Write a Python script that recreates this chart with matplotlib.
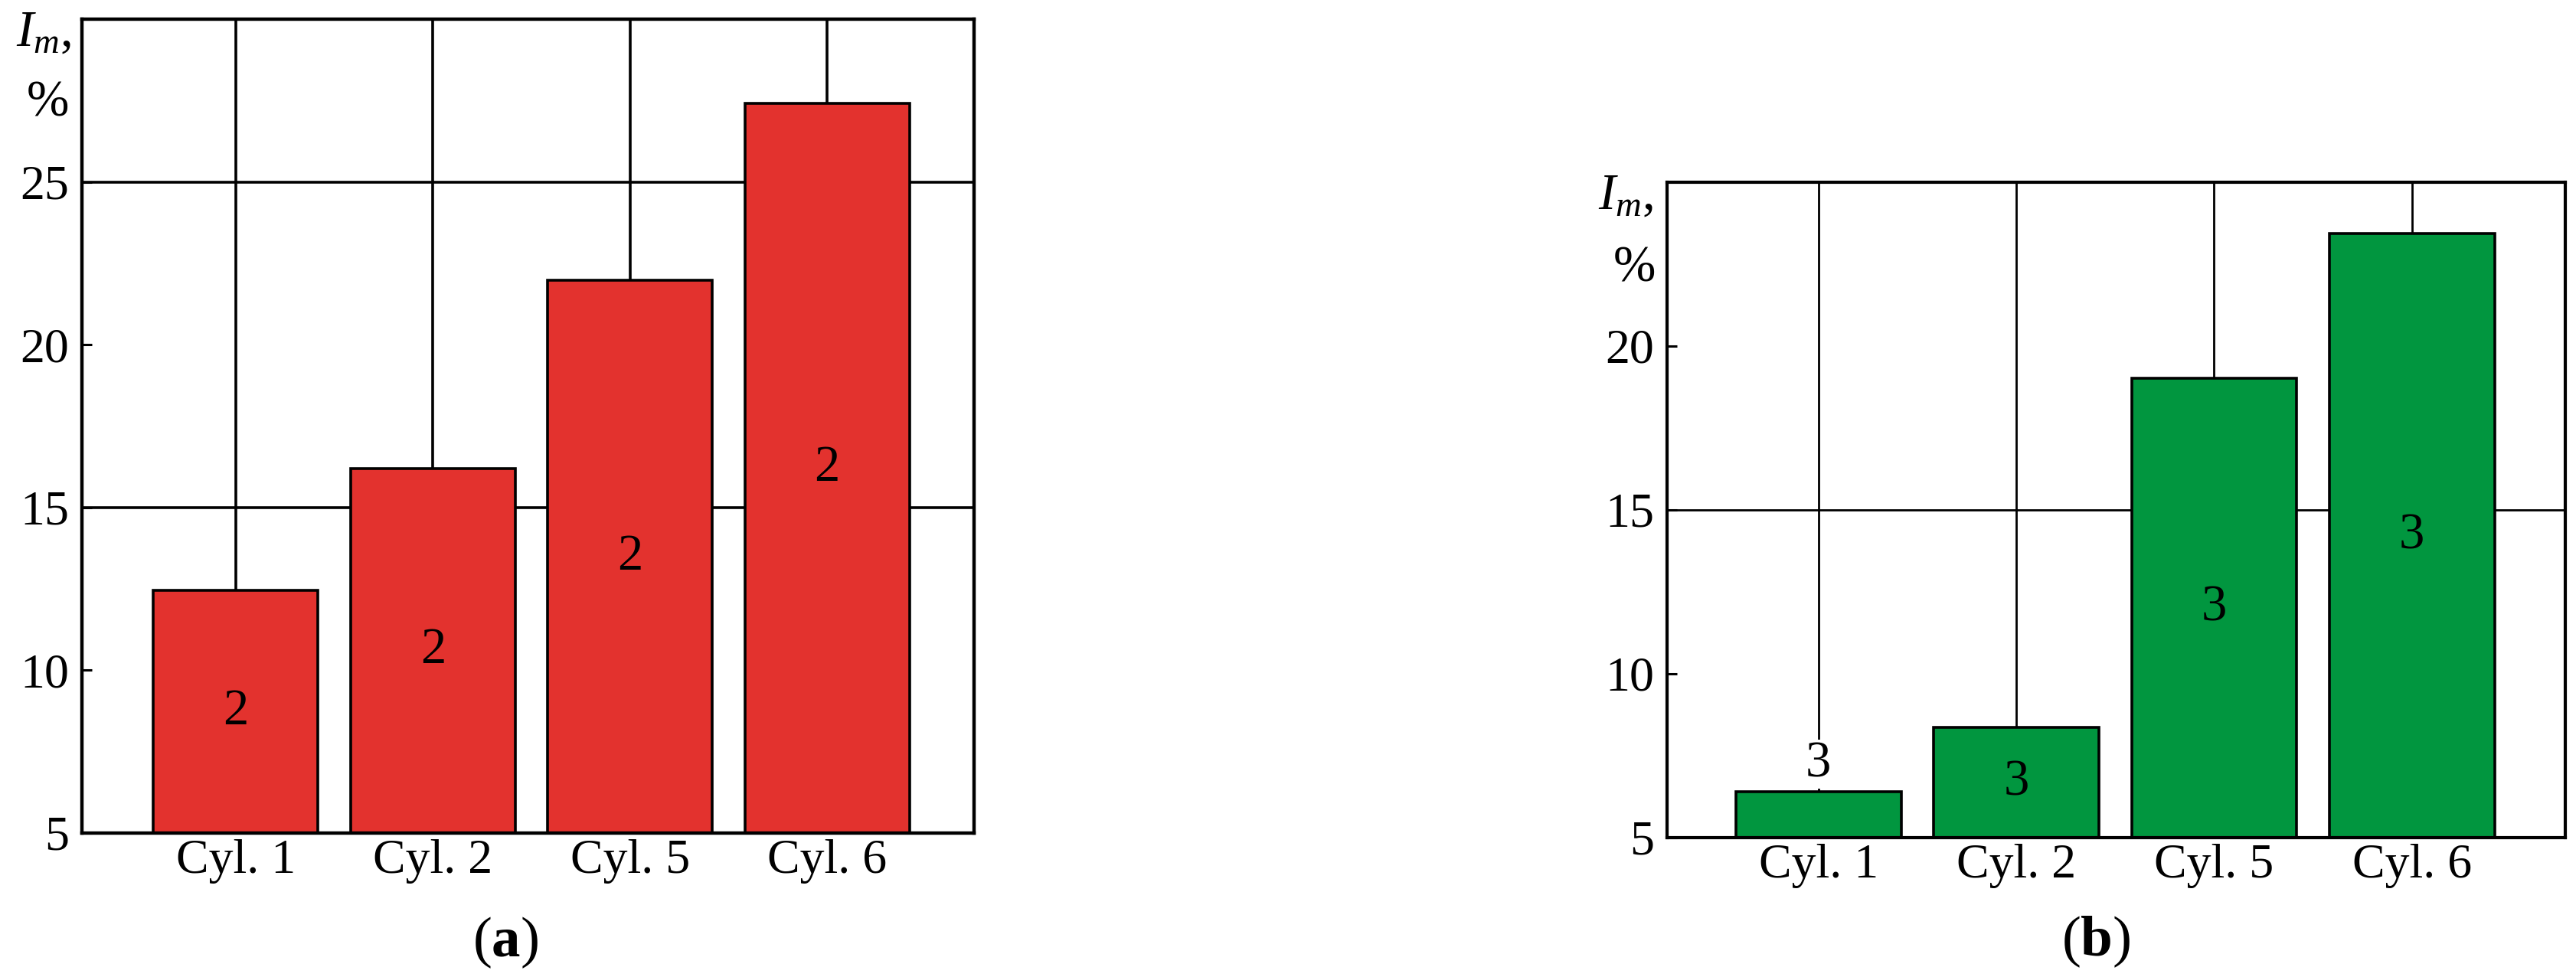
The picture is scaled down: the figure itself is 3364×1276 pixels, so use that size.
import matplotlib
matplotlib.use("Agg")
import matplotlib.pyplot as plt

# ---- data ----
categories = ["Cyl. 1", "Cyl. 2", "Cyl. 5", "Cyl. 6"]
values_a = [12.45, 16.2, 21.97, 27.42]
values_b = [6.40, 8.36, 19.02, 23.43]
label_a = "2"
label_b = "3"
yticks_a = [5, 10, 15, 20, 25]
yticks_b = [5, 10, 15, 20]
hgrid_a = [15, 25]
hgrid_b = [15]
panel_tags = ["a", "b"]

plt.rcParams["font.family"] = ["Liberation Serif", "DejaVu Serif"]
plt.rcParams["mathtext.fontset"] = "custom"
plt.rcParams["mathtext.rm"] = "Liberation Serif"
plt.rcParams["mathtext.it"] = "Liberation Serif:italic"
plt.rcParams["mathtext.bf"] = "Liberation Serif:bold"

W, H = 3364, 1276
fig = plt.figure(figsize=(W / 100, H / 100), dpi=100)

RED = "#E3322E"
GREEN = "#01963F"


def panel(rect_px, values, color, label, yticks, hgrid, ylim, xlim, lw_grid, lw_spine):
    x0, y0, x1, y1 = rect_px  # left, top, right, bottom in pixels
    ax = fig.add_axes([x0 / W, 1 - y1 / H, (x1 - x0) / W, (y1 - y0) / H])
    x = list(range(len(categories)))
    ax.set_axisbelow(True)
    ax.bar(x, [v - ylim[0] for v in values], bottom=ylim[0], width=0.835,
           color=color, edgecolor="black", linewidth=2.6, zorder=2)
    ax.set_xlim(*xlim)
    ax.set_ylim(*ylim)
    ax.set_xticks(x)
    ax.set_xticklabels(categories, fontsize=46)
    ax.set_yticks(yticks)
    ax.set_yticklabels([str(t) for t in yticks], fontsize=46)
    ax.tick_params(axis="x", length=0, pad=6)
    ax.tick_params(axis="y", direction="in", length=9, width=2.2, pad=12)
    ax.grid(axis="x", color="black", linewidth=lw_grid, zorder=0.5)
    for g in hgrid:
        ax.axhline(g, color="black", linewidth=lw_grid, zorder=0.5)
    for s in ax.spines.values():
        s.set_linewidth(lw_spine)
        s.set_zorder(3)
    for xi, v in zip(x, values):
        if v - ylim[0] < 2.5:
            ax.text(xi, v + 0.85, label, ha="center", va="center", fontsize=48,
                    zorder=4, bbox=dict(facecolor="white", edgecolor="none", pad=1))
        else:
            ax.text(xi, (v + ylim[0]) / 2, label, ha="center", va="center",
                    fontsize=48, zorder=4)
    return ax


ax_a = panel((107, 25, 1272, 1088), values_a, RED, label_a, yticks_a, hgrid_a,
             (5, 30), (-0.78, 3.745), 2.6, 3.2)
ax_b = panel((2177, 238, 3350, 1094), values_b, GREEN, label_b, yticks_b, hgrid_b,
             (5, 25), (-0.765, 3.775), 2.0, 3.0)

# y-axis titles
for ax, off1, off2 in [(ax_a, (-14, 12), (-17, -80)), (ax_b, (-18, 12), (-15, -82))]:
    ax.annotate(r"$I_m$,", xy=(0, 1), xycoords="axes fraction", xytext=off1,
                textcoords="offset pixels", ha="right", va="top", fontsize=48)
    ax.annotate("%", xy=(0, 1), xycoords="axes fraction", xytext=off2,
                textcoords="offset pixels", ha="right", va="top", fontsize=48)

# panel tags
fig.text(660 / W, 1 - 1231 / H, r"($\mathbf{%s}$)" % panel_tags[0], ha="center",
         va="center", fontsize=54)
fig.text(2737 / W, 1 - 1230 / H, r"($\mathbf{%s}$)" % panel_tags[1], ha="center",
         va="center", fontsize=54)

fig.savefig("out.png", dpi=100, facecolor="white")
